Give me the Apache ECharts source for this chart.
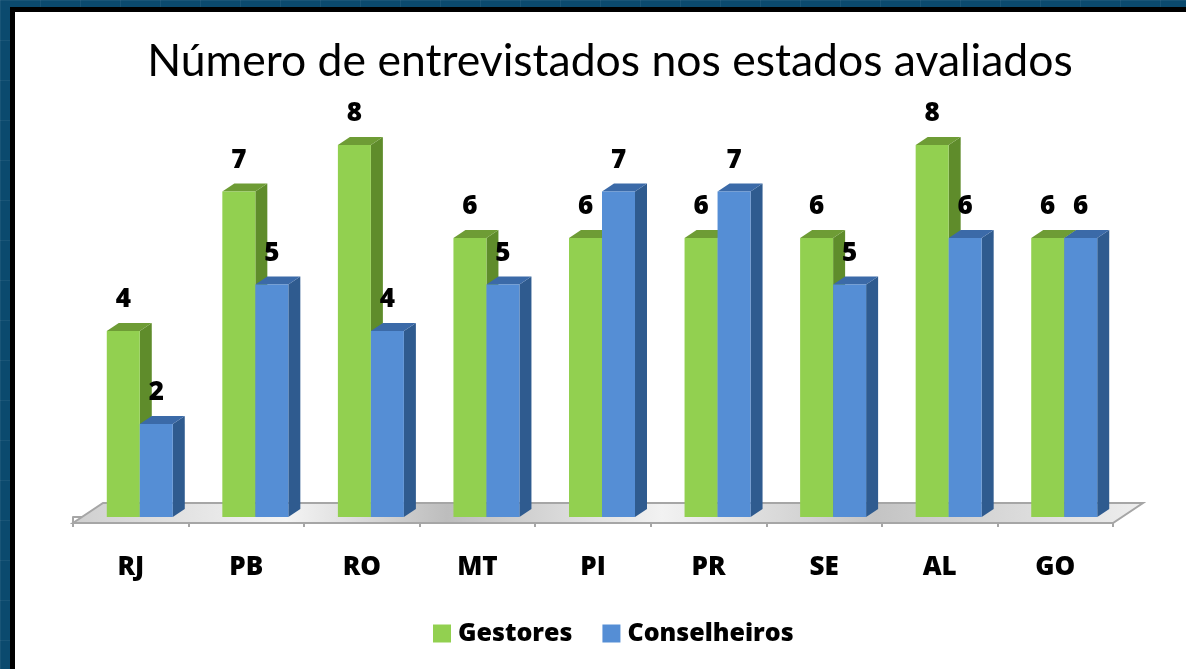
<!DOCTYPE html>
<html><head><meta charset="utf-8">
<script src="https://cdn.jsdelivr.net/npm/echarts@6/dist/echarts.min.js"></script>
<style>
html,body{margin:0;padding:0;width:1186px;height:669px;overflow:hidden;
 background:#0b4a6e;
 background-image:linear-gradient(90deg,rgba(255,255,255,0.06) 1px,transparent 1px),linear-gradient(rgba(255,255,255,0.06) 1px,transparent 1px);
 background-size:40px 40px;}
#frame{position:absolute;left:10px;top:7px;right:-10px;bottom:-10px;background:#fff;border-left:5px solid #000;border-top:5px solid #000;}
#chart{position:absolute;left:0;top:0;width:1186px;height:669px;}
</style></head>
<body><div id="frame"></div><div id="chart"></div>
<script>
const categories = ['RJ','PB','RO','MT','PI','PR','SE','AL','GO'];
const gestores = [4,7,8,6,6,6,6,8,6];
const conselheiros = [2,5,4,5,7,7,5,6,6];

const TFONT = 'Lato, "Open Sans", sans-serif';
const BFONT = '"Open Sans", "Noto Sans", sans-serif';
const DX = 12, DY = -8;       // depth of bars
const SHIFT_X = 9;            // bar plane offset from axis front
const BW = 33;

function barRenderer(side, front, dark, top) {
  return function (params, api) {
    const idx = api.value(0), v = api.value(1);
    const p0 = api.coord([idx, 0]);
    const p1 = api.coord([idx, v]);
    const cx = p0[0] + SHIFT_X;
    const x0 = side === 0 ? cx - BW : cx;
    const x1 = x0 + BW;
    const yb = p0[1], yt = p1[1];
    return {
      type: 'group',
      children: [
        {type:'polygon', shape:{points:[[x1,yt],[x1+DX,yt+DY],[x1+DX,yb+DY],[x1,yb]]}, style:{fill:dark}},
        {type:'polygon', shape:{points:[[x0,yt],[x1,yt],[x1+DX,yt+DY],[x0+DX,yt+DY]]}, style:{fill:top}},
        {type:'rect', shape:{x:x0,y:yt,width:BW,height:yb-yt}, style:{fill:front}},
        {type:'text', x:(x0+x1)/2, y:yt-31, z2:10, style:{text:String(v), fill:'#000', font:'800 26px ' + BFONT, align:'center', verticalAlign:'middle'}}
      ]
    };
  };
}

const chart = echarts.init(document.getElementById('chart'), null, {renderer:'canvas'});
chart.setOption({
  backgroundColor: 'transparent',
  animation: false,
  title: {text:'Número de entrevistados nos estados avaliados', left:605, textAlign:'center', top:34,
    textStyle:{fontFamily:TFONT, fontSize:44.5, fontWeight:'normal', color:'#000'}},
  legend: {left:428, top:616, itemWidth:18, itemHeight:18, itemGap:30, icon:'rect',
    textStyle:{fontFamily:BFONT, fontSize:25, fontWeight:800, color:'#000', padding:[0,0,0,2]},
    data:['Gestores','Conselheiros']},
  grid: {left:73, right:73, top:145, bottom:152},
  xAxis: {type:'category', data:categories, offset:6,
    axisLine:{show:true, lineStyle:{color:'#a6a6a6', width:2}},
    axisTick:{show:true, length:10, lineStyle:{color:'#a6a6a6', width:2}},
    axisLabel:{fontFamily:BFONT, fontSize:26, fontWeight:800, color:'#000', margin:32}},
  yAxis: {type:'value', min:0, max:8, interval:1, show:false, splitLine:{show:false}},
  series: [
    {type:'custom', name:'floor', data:[[0,0]], z:1, silent:true,
     renderItem:function(params, api){
       const band = api.size([1,0])[0];
       const a = api.coord([0,0]), b = api.coord([categories.length-1,0]);
       const xl = a[0]-band/2, xr = b[0]+band/2, yf = a[1]+6, yk = a[1]-14;
       return {type:'polygon', shape:{points:[[xl,yf],[xr,yf],[xr+30,yk],[xl+30,yk]]},
         style:{fill:{type:'linear',x:0,y:0,x2:1,y2:1,colorStops:[
           {offset:0,color:'#cfcfcf'},{offset:0.2,color:'#f4f4f4'},{offset:0.35,color:'#bdbdbd'},
           {offset:0.55,color:'#f2f2f2'},{offset:0.75,color:'#c4c4c4'},{offset:1,color:'#eeeeee'}]},
           stroke:'#a6a6a6', lineWidth:2}};
     }},
    {type:'custom', name:'Gestores', itemStyle:{color:'#92d050'}, z:2,
     data:gestores.map((v,i)=>[i,v]), renderItem:barRenderer(0,'#92d050','#5f8c2b','#6e9c35')},
    {type:'custom', name:'Conselheiros', itemStyle:{color:'#558ed5'}, z:3,
     data:conselheiros.map((v,i)=>[i,v]), renderItem:barRenderer(1,'#558ed5','#2f5b8f','#3b6aa8')}
  ]
});
</script></body></html>
